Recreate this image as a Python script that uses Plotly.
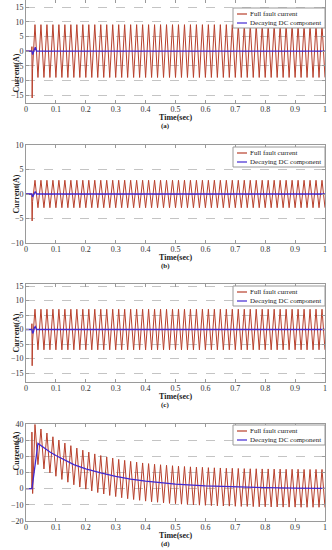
import plotly.graph_objects as go
from plotly.subplots import make_subplots

# times of the positive / negative extrema of the 50 Hz fault current (s)
t_peaks = [0.03, 0.05, 0.07, 0.09, 0.11, 0.13, 0.15, 0.17, 0.19, 0.21,
           0.23, 0.25, 0.27, 0.29, 0.31, 0.33, 0.35, 0.37, 0.39, 0.41,
           0.43, 0.45, 0.47, 0.49, 0.51, 0.53, 0.55, 0.57, 0.59, 0.61,
           0.63, 0.65, 0.67, 0.69, 0.71, 0.73, 0.75, 0.77, 0.79, 0.81,
           0.83, 0.85, 0.87, 0.89, 0.91, 0.93, 0.95, 0.97, 0.99]
t_troughs = [0.04, 0.06, 0.08, 0.10, 0.12, 0.14, 0.16, 0.18, 0.20, 0.22,
             0.24, 0.26, 0.28, 0.30, 0.32, 0.34, 0.36, 0.38, 0.40, 0.42,
             0.44, 0.46, 0.48, 0.50, 0.52, 0.54, 0.56, 0.58, 0.60, 0.62,
             0.64, 0.66, 0.68, 0.70, 0.72, 0.74, 0.76, 0.78, 0.80, 0.82,
             0.84, 0.86, 0.88, 0.90, 0.92, 0.94, 0.96, 0.98, 1.00]
x_ticks = [0, 0.1, 0.2, 0.3, 0.4, 0.5, 0.6, 0.7, 0.8, 0.9, 1]

# (a)
start_t_a = [0, 0.019, 0.0198, 0.0206, 0.022]
start_i_a = [0, 0, 1.5, -16.0, -6.0]
peaks_a = [9.0, 9.0, 9.0, 9.0, 9.0, 9.0, 9.0, 9.0, 9.0, 9.0,
           9.0, 9.0, 9.0, 9.0, 9.0, 9.0, 9.0, 9.0, 9.0, 9.0,
           9.0, 9.0, 9.0, 9.0, 9.0, 9.0, 9.0, 9.0, 9.0, 9.0,
           9.0, 9.0, 9.0, 9.0, 9.0, 9.0, 9.0, 9.0, 9.0, 9.0,
           9.0, 9.0, 9.0, 9.0, 9.0, 9.0, 9.0, 9.0, 9.0]
troughs_a = [-9.0, -9.0, -9.0, -9.0, -9.0, -9.0, -9.0, -9.0, -9.0, -9.0,
             -9.0, -9.0, -9.0, -9.0, -9.0, -9.0, -9.0, -9.0, -9.0, -9.0,
             -9.0, -9.0, -9.0, -9.0, -9.0, -9.0, -9.0, -9.0, -9.0, -9.0,
             -9.0, -9.0, -9.0, -9.0, -9.0, -9.0, -9.0, -9.0, -9.0, -9.0,
             -9.0, -9.0, -9.0, -9.0, -9.0, -9.0, -9.0, -9.0, -9.0]
dc_t_a = [0, 0.02, 0.022, 0.025, 0.028, 0.031, 0.035, 1.0]
dc_a = [0, 0, -1.2, -0.5, 0.8, 1.3, 0, 0]

# (b)
start_t_b = [0, 0.019, 0.0205, 0.022]
start_i_b = [0, 0, -5.5, -1.5]
peaks_b = [2.8, 2.8, 2.8, 2.8, 2.8, 2.8, 2.8, 2.8, 2.8, 2.8,
           2.8, 2.8, 2.8, 2.8, 2.8, 2.8, 2.8, 2.8, 2.8, 2.8,
           2.8, 2.8, 2.8, 2.8, 2.8, 2.8, 2.8, 2.8, 2.8, 2.8,
           2.8, 2.8, 2.8, 2.8, 2.8, 2.8, 2.8, 2.8, 2.8, 2.8,
           2.8, 2.8, 2.8, 2.8, 2.8, 2.8, 2.8, 2.8, 2.8]
troughs_b = [-2.8, -2.8, -2.8, -2.8, -2.8, -2.8, -2.8, -2.8, -2.8, -2.8,
             -2.8, -2.8, -2.8, -2.8, -2.8, -2.8, -2.8, -2.8, -2.8, -2.8,
             -2.8, -2.8, -2.8, -2.8, -2.8, -2.8, -2.8, -2.8, -2.8, -2.8,
             -2.8, -2.8, -2.8, -2.8, -2.8, -2.8, -2.8, -2.8, -2.8, -2.8,
             -2.8, -2.8, -2.8, -2.8, -2.8, -2.8, -2.8, -2.8, -2.8]
dc_t_b = [0, 0.02, 0.022, 0.025, 0.028, 0.031, 0.035, 1.0]
dc_b = [0, 0, -0.6, -0.2, 0.3, 0.5, 0, 0]

# (c)
start_t_c = [0, 0.019, 0.0198, 0.0206, 0.022]
start_i_c = [0, 0, 2.0, -12.5, -4.0]
peaks_c = [7.0, 7.0, 7.0, 7.0, 7.0, 7.0, 7.0, 7.0, 7.0, 7.0,
           7.0, 7.0, 7.0, 7.0, 7.0, 7.0, 7.0, 7.0, 7.0, 7.0,
           7.0, 7.0, 7.0, 7.0, 7.0, 7.0, 7.0, 7.0, 7.0, 7.0,
           7.0, 7.0, 7.0, 7.0, 7.0, 7.0, 7.0, 7.0, 7.0, 7.0,
           7.0, 7.0, 7.0, 7.0, 7.0, 7.0, 7.0, 7.0, 7.0]
troughs_c = [-7.0, -7.0, -7.0, -7.0, -7.0, -7.0, -7.0, -7.0, -7.0, -7.0,
             -7.0, -7.0, -7.0, -7.0, -7.0, -7.0, -7.0, -7.0, -7.0, -7.0,
             -7.0, -7.0, -7.0, -7.0, -7.0, -7.0, -7.0, -7.0, -7.0, -7.0,
             -7.0, -7.0, -7.0, -7.0, -7.0, -7.0, -7.0, -7.0, -7.0, -7.0,
             -7.0, -7.0, -7.0, -7.0, -7.0, -7.0, -7.0, -7.0, -7.0]
dc_t_c = [0, 0.02, 0.022, 0.025, 0.028, 0.031, 0.035, 1.0]
dc_c = [0, 0, -1.3, -0.8, 0.6, 1.0, 0, 0]

# (d)
start_t_d = [0, 0.019, 0.0198, 0.0222]
start_i_d = [0, 0, 35.0, -3.0]
peaks_d = [39.7, 36.9, 34.4, 32.1, 30.1, 28.2, 26.6, 25.1, 23.8, 22.6,
           21.5, 20.5, 19.6, 18.9, 18.1, 17.5, 16.9, 16.4, 15.9, 15.5,
           15.1, 14.8, 14.5, 14.2, 13.9, 13.7, 13.5, 13.3, 13.2, 13.0,
           12.9, 12.8, 12.6, 12.6, 12.5, 12.4, 12.3, 12.3, 12.2, 12.2,
           12.1, 12.1, 12.0, 12.0, 12.0, 11.9, 11.9, 11.9, 11.9]
troughs_d = [14.9, 12.2, 9.8, 7.7, 5.7, 4.0, 2.4, 1.0, -0.3, -1.4,
             -2.4, -3.3, -4.2, -4.9, -5.6, -6.2, -6.7, -7.2, -7.7, -8.1,
             -8.4, -8.8, -9.1, -9.3, -9.6, -9.8, -10.0, -10.2, -10.3, -10.5,
             -10.6, -10.7, -10.8, -10.9, -11.0, -11.0, -11.1, -11.2, -11.2, -11.3,
             -11.3, -11.4, -11.4, -11.4, -11.5, -11.5, -11.5, -11.5, -11.6]
dc_t_d = [0, 0.02, 0.04, 0.06, 0.08, 0.10, 0.13, 0.16, 0.20, 0.25, 0.30,
          0.35, 0.40, 0.45, 0.50, 0.60, 0.70, 0.80, 0.90, 1.0]
dc_d = [0, 0, 28.0, 25.2, 22.7, 20.5, 17.6, 14.9, 12.3, 9.7, 7.6,
        5.9, 4.7, 3.6, 2.8, 1.7, 1.0, 0.6, 0.3, 0.2]

series_names = ["Full fault current", "Decaying DC component"]

panels = [
    ("(a)", start_t_a, start_i_a, peaks_a, troughs_a, dc_t_a, dc_a),
    ("(b)", start_t_b, start_i_b, peaks_b, troughs_b, dc_t_b, dc_b),
    ("(c)", start_t_c, start_i_c, peaks_c, troughs_c, dc_t_c, dc_c),
    ("(d)", start_t_d, start_i_d, peaks_d, troughs_d, dc_t_d, dc_d),
]

# pixel layout of the reference (top, bottom of each plot box)
W, H = 332, 550
L, R = 26, 7
PW = W - L - R
boxes = [(0, 103), (145, 243), (284, 382), (424, 521)]
y_ranges = [[-17.7, 17.4], [-10, 10], [-18.1, 15.7], [-20, 40]]
y_ticks = [[-15, -10, -5, 0, 5, 10, 15], [-10, -5, 0, 5, 10],
           [-15, -10, -5, 0, 5, 10, 15], [-20, -10, 0, 10, 20, 30, 40]]
legend_tops = [8, 147, 286, 425]

RED = "#b8402c"
BLUE = "#4129d2"
FONT = "Liberation Serif"
TXT = "#222"


def wave(t0, i0, peaks, troughs):
    x, y = list(t0), list(i0)
    for tp, p, tt, q in zip(t_peaks, peaks, t_troughs, troughs):
        x += [tp, tt]
        y += [p, q]
    return x, y


def px_x(p):
    return (p - L) / PW


def px_y(p):
    return 1 - p / H


fig = make_subplots(rows=4, cols=1)

for k, (tag, st, si, pk, tr, dct, dcv) in enumerate(panels):
    row = k + 1
    x, y = wave(st, si, pk, tr)
    fig.add_trace(go.Scatter(x=x, y=y, mode="lines", name=series_names[0],
                             line=dict(color=RED, width=1)), row=row, col=1)
    fig.add_trace(go.Scatter(x=dct, y=dcv, mode="lines", name=series_names[1],
                             line=dict(color=BLUE, width=1.3)), row=row, col=1)

    top, bot = boxes[k]
    fig.update_yaxes(domain=[px_y(bot), px_y(top)], range=y_ranges[k],
                     tickvals=y_ticks[k], row=row, col=1)
    fig.update_xaxes(domain=[0, 1], range=[0, 1], tickvals=x_ticks, row=row, col=1)

    # legend box (drawn inside each panel, top right)
    lt = legend_tops[k]
    fig.add_shape(type="rect", xref="paper", yref="paper",
                  x0=px_x(233), x1=1, y0=px_y(lt + 20), y1=px_y(lt),
                  fillcolor="white", line=dict(color="#9a9a9a", width=1), layer="above")
    for j, (name, col) in enumerate(zip(series_names, [RED, BLUE])):
        yy = px_y(lt + 6 + 9 * j)
        fig.add_shape(type="line", xref="paper", yref="paper",
                      x0=px_x(237), x1=px_x(247), y0=yy, y1=yy,
                      line=dict(color=col, width=1.2), layer="above")
        fig.add_annotation(text=name, showarrow=False, xref="paper", yref="paper",
                           x=px_x(248), y=yy, xanchor="left", yanchor="middle",
                           font=dict(family=FONT, size=7, color=TXT))

    # axis labels
    fig.add_annotation(text="<b>Current(A)</b>", textangle=-90, showarrow=False,
                       xref="paper", x=px_x(9), yref="paper",
                       y=px_y((top + bot) / 2), font=dict(family=FONT, size=8, color=TXT))
    fig.add_annotation(text="<b>Time(sec)</b>", showarrow=False,
                       xref="paper", x=0.5, yref="paper", y=px_y(bot + 14),
                       yanchor="middle", font=dict(family=FONT, size=8, color=TXT))
    fig.add_annotation(text=f"<b>{tag}</b>", showarrow=False,
                       xref="paper", x=px_x(165), yref="paper", y=px_y(bot + 23),
                       yanchor="middle", font=dict(family=FONT, size=7, color=TXT))

fig.update_xaxes(showline=True, linecolor="#9a9a9a", linewidth=1, mirror="ticks",
                 ticks="inside", ticklen=3, tickcolor="#9a9a9a", showgrid=False,
                 zeroline=False, automargin=False, ticklabelstandoff=-2,
                 tickfont=dict(family=FONT, size=8, color="#333"))
fig.update_yaxes(showline=True, linecolor="#9a9a9a", linewidth=1, mirror="ticks",
                 ticks="inside", ticklen=3, tickcolor="#9a9a9a", showgrid=True,
                 gridcolor="#c4c4c4", griddash="dash", gridwidth=1, zeroline=False,
                 automargin=False, tickfont=dict(family=FONT, size=8, color="#333"))

fig.update_layout(
    width=W, height=H,
    margin=dict(l=L, r=R, t=0, b=0),
    paper_bgcolor="white", plot_bgcolor="white",
    showlegend=False,
)

# the page body has a default 8px margin; remove it so the figure fills the window
fig.write_html("out.html", config={"displayModeBar": False},
               post_script="document.body.style.margin='0';")
